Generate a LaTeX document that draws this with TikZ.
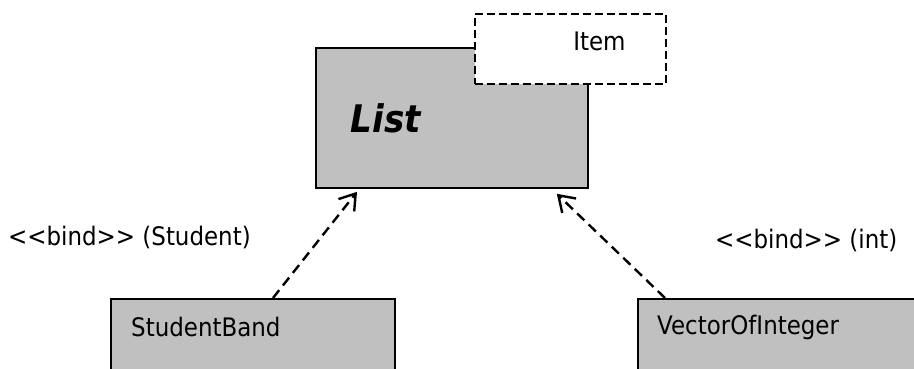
\documentclass[tikz,border=0pt]{standalone}
\usepackage{fontspec}
\usetikzlibrary{arrows.meta,calc}
\newfontfamily\umlfont{DejaVu Sans}[FakeStretch=0.9]
\definecolor{boxgray}{RGB}{192,192,192}

\begin{document}
\begin{tikzpicture}[x=1pt,y=-1pt,
    every node/.style={inner sep=0pt,font={\umlfont\fontsize{25.5}{30}\selectfont}},
    classbox/.style={draw,line width=1.8pt,fill=boxgray,anchor=north west},
    parambox/.style={draw,line width=1.8pt,dash pattern=on 8pt off 4pt,fill=white,anchor=north west},
    bind/.style={line width=2.4pt,dash pattern=on 10pt off 6pt,
        -{Straight Barb[length=15pt,width=20pt,line width=2.4pt]}}]
    % page frame, boxes at the bottom run off the page
    \useasboundingbox (0,0) rectangle (914,368);
    \clip (0,0) rectangle (914,368);

    % template class with its parameter box on the corner
    \node[classbox,minimum width=272pt,minimum height=140pt,text width=202pt,
        inner xsep=35pt,align=left,font={\umlfont\fontsize{38}{44}\bfseries\itshape\selectfont}]
        (list) at (315,47) {List};
    \node[parambox,minimum width=191pt,minimum height=70pt] (item) at (474,13) {};
    \node (itemname) at ($(item.center)+(29,-8)$) {Item};

    % bound classes
    \node[classbox,minimum width=284pt,minimum height=100pt] (student) at (110,298) {};
    \node[anchor=west] (studentname) at ($(student.north west)+(21,29)$) {StudentBand};
    \node[classbox,minimum width=320pt,minimum height=100pt] (vector) at (637,298) {};
    \node[anchor=west] (vectorname) at ($(vector.north west)+(20,29)$) {VectorOfInteger};

    % bind dependencies
    \draw[bind] ([xshift=163pt]student.north west) -- ([xshift=42pt,yshift=-3pt]list.south west);
    \draw[bind] ([xshift=28pt]vector.north west) -- ([xshift=-32pt,yshift=-5pt]list.south east);
    \node[anchor=west] (bindstudent) at (8,237) {<<bind>> (Student)};
    \node[anchor=west] (bindint) at (715,240) {<<bind>> (int)};
\end{tikzpicture}
\end{document}
